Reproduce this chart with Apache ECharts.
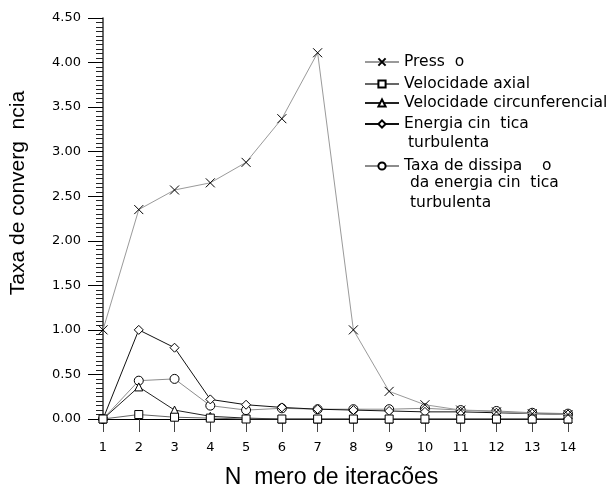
<!DOCTYPE html>
<html>
<head>
<meta charset="utf-8">
<script src="https://cdn.jsdelivr.net/npm/echarts@6/dist/echarts.min.js"></script>
<style>
  html, body { margin: 0; padding: 0; background: #fff; }
  #chart { width: 613px; height: 484px; }
</style>
</head>
<body>
<div id="chart"></div>
<script>
// dados
const iteracoes = ['1', '2', '3', '4', '5', '6', '7', '8', '9', '10', '11', '12', '13', '14']
const pressao = [1.00, 2.35, 2.57, 2.65, 2.88, 3.37, 4.11, 1.00, 0.31, 0.16, 0.10, 0.08, 0.06, 0.05]
const velAxial = [0.00, 0.05, 0.02, 0.01, 0.00, 0.00, 0.00, 0.00, 0.00, 0.00, 0.00, 0.00, 0.00, 0.00]
const velCirc = [0.00, 0.36, 0.10, 0.03, 0.01, 0.00, 0.00, 0.00, 0.00, 0.00, 0.00, 0.00, 0.00, 0.00]
const energia = [0.00, 1.00, 0.80, 0.22, 0.16, 0.13, 0.11, 0.10, 0.09, 0.08, 0.08, 0.07, 0.06, 0.05]
const dissipacao = [0.00, 0.43, 0.45, 0.15, 0.10, 0.12, 0.11, 0.11, 0.11, 0.12, 0.10, 0.09, 0.07, 0.06]

const nomes = ['Press  o', 'Velocidade axial', 'Velocidade circunferencial', 'Energia cin  tica', 'Taxa de dissipa    o']

const crossPath = 'path://M0,0L10,10M10,0L0,10'
const legendFont = { fontFamily: 'DejaVu Sans', fontSize: 15.5, color: '#000' }

const chart = echarts.init(document.getElementById('chart'))

// uma legenda por linha, para alinhar como no original
const legendTops = [49, 71, 90, 111, 153]
const legends = nomes.map((n, i) => ({
  data: [n],
  left: 359,
  top: legendTops[i],
  itemWidth: 34,
  itemHeight: 9,
  selectedMode: false,
  textStyle: legendFont
}))

const mkSeries = (name, data, symbol, size, lineColor, z) => ({
  name,
  type: 'line',
  data,
  symbol,
  symbolSize: size,
  showAllSymbol: true,
  z,
  lineStyle: { color: lineColor, width: 1 },
  itemStyle: { color: '#fff', borderColor: '#000', borderWidth: 1 }
})

const contFont = '15.5px "DejaVu Sans"'

const option = {
  backgroundColor: '#fff',
  animation: false,
  legend: legends,
  grid: { left: 103, right: 45, top: 18, bottom: 65, outerBoundsMode: 'none' },
  xAxis: {
    type: 'category',
    data: iteracoes,
    boundaryGap: false,
    name: 'N  mero de iterações',
    nameLocation: 'middle',
    nameGap: 47,
    nameTextStyle: { fontFamily: 'Liberation Sans', fontSize: 23, color: '#000', padding: [0, 8, 0, 0] },
    axisLine: { lineStyle: { color: '#000', width: 1 } },
    axisTick: { show: true, length: 13, lineStyle: { color: '#444' } },
    axisLabel: { margin: 22, fontFamily: 'DejaVu Sans', fontSize: 13, color: '#000' },
    splitLine: { show: false }
  },
  yAxis: {
    type: 'value',
    min: 0,
    max: 4.5,
    interval: 0.5,
    axisLine: { show: true, lineStyle: { color: '#333', width: 1.5 } },
    axisTick: { show: true, length: 15, lineStyle: { color: '#000' } },
    minorTick: { show: true, splitNumber: 10, length: 7, lineStyle: { color: '#222' } },
    axisLabel: {
      margin: 22,
      fontFamily: 'DejaVu Sans',
      fontSize: 13,
      color: '#000',
      formatter: v => v.toFixed(2)
    },
    splitLine: { show: false }
  },
  graphic: [
    {
      type: 'text', x: 18, y: 193, rotation: Math.PI / 2,
      style: { text: 'Taxa de converg  ncia', font: '21px "Liberation Sans"', fill: '#000', align: 'center', verticalAlign: 'middle' }
    },
    { type: 'text', left: 408, top: 135, style: { text: 'turbulenta', font: contFont, fill: '#000' } },
    { type: 'text', left: 410, top: 175, style: { text: 'da energia cin  tica', font: contFont, fill: '#000' } },
    { type: 'text', left: 410, top: 195, style: { text: 'turbulenta', font: contFont, fill: '#000' } }
  ],
  series: [
    mkSeries(nomes[0], pressao, crossPath, 9, '#9a9a9a', 5),
    mkSeries(nomes[1], velAxial, 'rect', 8, '#666', 4),
    mkSeries(nomes[2], velCirc, 'triangle', 8, '#222', 3),
    mkSeries(nomes[3], energia, 'diamond', 9, '#111', 2),
    mkSeries(nomes[4], dissipacao, 'circle', 9, '#8c8c8c', 1)
  ]
}

chart.setOption(option)
</script>
</body>
</html>
